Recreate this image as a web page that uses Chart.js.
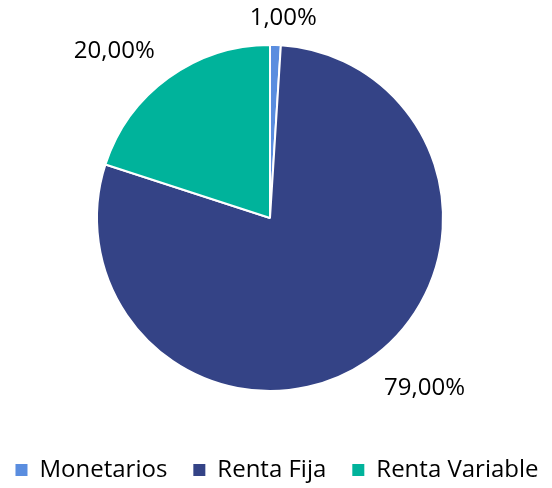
<!DOCTYPE html>
<html>
<head>
<meta charset="utf-8">
<script src="https://cdn.jsdelivr.net/npm/chart.js@4/dist/chart.umd.min.js"></script>
<style>
  html, body { margin: 0; padding: 0; background: #fff; }
  #wrap { width: 552px; height: 488px; }
</style>
</head>
<body>
<div id="wrap"><canvas id="pieChart" width="552" height="488"></canvas></div>
<script>
// ===== Asset allocation pie =====
const categories = ['Monetarios', 'Renta Fija', 'Renta Variable'];
const shares = [1.00, 79.00, 20.00];
const sliceColors = ['#5a8ddf', '#344386', '#00b39b'];

// label placement around the pie (Excel "best fit" look):
// distance as a multiple of the radius, and a small angle shift in degrees
const labelDistance = [1.16, 1.33, 1.32];
const labelShift = [2, -8, -7];
const labelFont = '24px "Open Sans", sans-serif';

const fmtPct = v => v.toFixed(2).replace('.', ',') + '%';

// Draw percentage labels outside the slices
const outsideLabels = {
  id: 'outsideLabels',
  afterDatasetsDraw(chart) {
    const ctx = chart.ctx;
    const meta = chart.getDatasetMeta(0);
    ctx.save();
    ctx.font = labelFont;
    ctx.fillStyle = '#000';
    ctx.textAlign = 'center';
    ctx.textBaseline = 'middle';
    meta.data.forEach((arc, i) => {
      const mid = (arc.startAngle + arc.endAngle) / 2 + labelShift[i] * Math.PI / 180;
      const r = arc.outerRadius * labelDistance[i];
      const x = arc.x + Math.cos(mid) * r;
      const y = arc.y + Math.sin(mid) * r;
      ctx.fillText(fmtPct(shares[i]), x, y);
    });
    ctx.restore();
  }
};

// Simple legend row at the bottom, centred
const bottomLegend = {
  id: 'bottomLegend',
  afterDraw(chart) {
    const ctx = chart.ctx;
    const box = 12, gapBox = 12, gapItem = 26;
    ctx.save();
    ctx.font = labelFont;
    ctx.textBaseline = 'middle';
    const widths = categories.map(c => box + gapBox + ctx.measureText(c).width);
    const total = widths.reduce((a, b) => a + b, 0) + gapItem * (categories.length - 1);
    let x = (chart.width - total) / 2 + 1;
    const y = 470;
    categories.forEach((c, i) => {
      ctx.fillStyle = sliceColors[i];
      ctx.fillRect(x, y - box / 2, box, box);
      ctx.fillStyle = '#000';
      ctx.fillText(c, x + box + gapBox, y);
      x += widths[i] + gapItem;
    });
    ctx.restore();
  }
};

new Chart(document.getElementById('pieChart'), {
  type: 'pie',
  data: {
    labels: categories,
    datasets: [{
      data: shares,
      backgroundColor: sliceColors,
      borderColor: '#ffffff',
      borderWidth: 2
    }]
  },
  options: {
    responsive: false,
    animation: false,
    layout: {
      padding: { top: 44, bottom: 96, left: 0, right: 12 }
    },
    plugins: {
      legend: { display: false },
      tooltip: { enabled: false }
    }
  },
  plugins: [outsideLabels, bottomLegend]
});
</script>
</body>
</html>
